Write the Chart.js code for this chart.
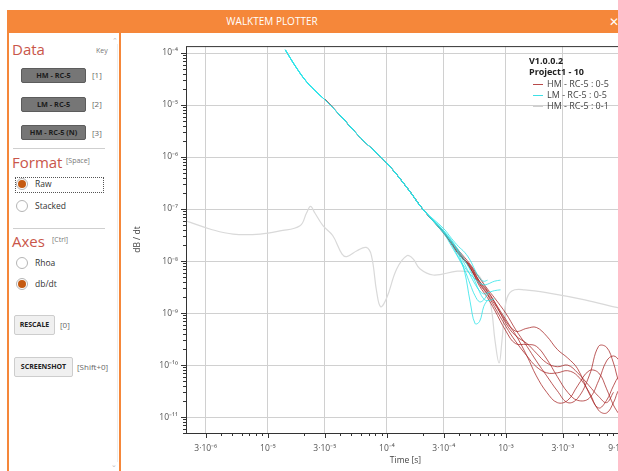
<!DOCTYPE html>
<html>
<head>
<meta charset="utf-8">
<script src="https://cdn.jsdelivr.net/npm/chart.js@4.4.1/dist/chart.umd.min.js"></script>
<style>
  html, body { margin: 0; padding: 0; background: #fff; overflow: hidden; width: 618px; height: 471px; font-family: "Open Sans", sans-serif; }
  .abs { position: absolute; white-space: nowrap; }
  #titlebar { left: 7px; top: 10px; width: 640px; height: 23px; background: #f5873a; }
  #titletext { left: 0; top: 10px; width: 544px; height: 23px; line-height: 23px; text-align: center; color: #fff; font-size: 10px; }
  #closebtn { left: 609px; top: 10px; height: 23px; line-height: 23px; color: #fff; font-size: 12px; }
  .vline { width: 2px; background: #f5873a; top: 33px; height: 438px; }
  .head { color: #c9564a; font-size: 15px; line-height: 15px; }
  .small { color: #777; font-size: 7px; height: 10px; line-height: 10px; }
  .key { color: #666; font-size: 8px; height: 10px; line-height: 10px; }
  .dbtn { left: 21px; width: 63px; height: 13px; background: #767676; border: 1px solid #5c5c5c; border-radius: 2px;
          font-size: 7.3px; font-weight: bold; color: #1c1c1c; text-align: center; line-height: 13px; }
  .sep { left: 13px; width: 92px; height: 1px; background: #cfcfcf; }
  .radio { width: 10px; height: 10px; border-radius: 50%; border: 1px solid #b5b5b5; background: #fff; }
  .radio.on::after { content: ""; position: absolute; left: 1px; top: 1px; width: 8px; height: 8px; border-radius: 50%; background: #c55a11; }
  .rlabel { left: 35px; font-size: 8.5px; color: #333; height: 12px; line-height: 12px; }
  .lbtn { left: 14px; height: 18px; background: #f0f0f0; border: 1px solid #cdcdcd; border-radius: 2px;
          font-size: 7px; font-weight: bold; color: #222; text-align: center; line-height: 18px; }
  #chartbox { left: 122px; top: 33px; width: 540px; height: 438px; }
  #legend { left: 529px; top: 55px; font-size: 9px; color: #444; z-index: 5; }
  #legend .row { height: 11.3px; line-height: 11.3px; position: relative; }
  #legend .b { font-weight: bold; color: #222; }
  #legend .swatch { position: absolute; left: 4px; top: 6px; width: 10px; height: 1px; }
  #legend .lt { padding-left: 18px; }
</style>
</head>
<body>
<div id="titlebar" class="abs"></div>
<div id="titletext" class="abs">WALKTEM PLOTTER</div>
<div id="closebtn" class="abs">✕</div>
<div class="abs vline" style="left:7px"></div>
<div class="abs vline" style="left:119px"></div>

<!-- left control panel -->
<div class="abs" style="left:112px;top:36px;font-size:7px;color:#bbb">&#8963;</div>
<div class="abs" style="left:117px;top:44px;width:1px;height:418px;background:#eee"></div>
<div class="abs" style="left:111px;top:460px;font-size:7px;color:#bbb">&#8964;</div>

<div class="abs head" style="left:12px;top:42px">Data</div>
<div class="abs small" style="left:96px;top:46px">Key</div>
<div class="abs dbtn" style="top:68px">HM - RC-5</div>
<div class="abs key" style="left:92px;top:70px">[1]</div>
<div class="abs dbtn" style="top:97px">LM - RC-5</div>
<div class="abs key" style="left:92px;top:99px">[2]</div>
<div class="abs dbtn" style="top:125px">HM - RC-5 (N)</div>
<div class="abs key" style="left:92px;top:128px">[3]</div>
<div class="abs sep" style="top:148px"></div>

<div class="abs head" style="left:12px;top:155px">Format</div>
<div class="abs small" style="left:66px;top:156px">[Space]</div>
<div class="abs" style="left:15px;top:177px;width:87px;height:14px;border:1px dotted #555"></div>
<div class="abs radio on" style="left:16px;top:178px"></div>
<div class="abs rlabel" style="top:178px">Raw</div>
<div class="abs radio" style="left:16px;top:200px"></div>
<div class="abs rlabel" style="top:200px">Stacked</div>
<div class="abs sep" style="top:228px"></div>

<div class="abs head" style="left:12px;top:234px">Axes</div>
<div class="abs small" style="left:52px;top:235px">[Ctrl]</div>
<div class="abs radio" style="left:16px;top:257px"></div>
<div class="abs rlabel" style="top:257px">Rhoa</div>
<div class="abs radio on" style="left:16px;top:278px"></div>
<div class="abs rlabel" style="top:278px">db/dt</div>

<div class="abs lbtn" style="top:315px;width:39px">RESCALE</div>
<div class="abs key" style="left:60px;top:320px">[0]</div>
<div class="abs lbtn" style="top:357px;width:57px">SCREENSHOT</div>
<div class="abs key" style="left:77px;top:362px">[Shift+0]</div>

<!-- chart -->
<div id="chartbox" class="abs"><canvas id="plot" width="540" height="438"></canvas></div>
<div id="legend" class="abs">
  <div class="row b">V1.0.0.2</div>
  <div class="row b">Project1 - 10</div>
  <div class="row"><span class="swatch" style="background:#b84a4a"></span><span class="lt">HM - RC-5 : 0-5</span></div>
  <div class="row"><span class="swatch" style="background:#3ee0e6"></span><span class="lt">LM - RC-5 : 0-5</span></div>
  <div class="row"><span class="swatch" style="background:#cfcfcf"></span><span class="lt">HM - RC-5 : 0-1</span></div>
</div>

<script>
// === tick labels ===
const xMajorTicks = [3e-6, 1e-5, 3e-5, 1e-4, 3e-4, 1e-3, 3e-3, 9e-3];
const xTickLabels = ['3·10⁻⁶', '10⁻⁵', '3·10⁻⁵', '10⁻⁴', '3·10⁻⁴', '10⁻³', '3·10⁻³', '9·10⁻³'];
const yMajorTicks = [1e-4, 1e-5, 1e-6, 1e-7, 1e-8, 1e-9, 1e-10, 1e-11];
const yTickLabels = ['10⁻⁴', '10⁻⁵', '10⁻⁶', '10⁻⁷', '10⁻⁸', '10⁻⁹', '10⁻¹⁰', '10⁻¹¹'];

// === HM - RC-5 : 0-5 (red) ===
const redTimes = [3e-5, 4e-5, 6e-5, 1e-4, 1.5e-4, 2e-4, 3e-4, 4e-4, 5e-4, 6e-4, 7e-4, 8e-4, 1e-3, 1.2e-3, 1.5e-3,
  1.8e-3, 2.2e-3, 2.7e-3, 3.3e-3, 4e-3, 5e-3, 6e-3, 7e-3, 8e-3, 9e-3, 1.1e-2];
const redGate0 = [1.29e-5, 6.5e-6, 2.35e-6, 7.6e-7, 2.45e-7, 1.0e-7, 3.5e-8, 1.4e-8, 8.0e-9, 4.0e-9, 2.56e-9, 1.65e-9, 7.5e-10,
  4.5e-10, 5.1e-10, 5.3e-10, 3.6e-10, 2.0e-10, 1.37e-10, 8.5e-11, 2.85e-11, 1.5e-11, 2.1e-11, 4.0e-11, 6.2e-11, 7.8e-11];
const redGate1 = [1.29e-5, 6.5e-6, 2.35e-6, 7.6e-7, 2.45e-7, 1.0e-7, 3.6e-8, 1.6e-8, 8.7e-9, 4.7e-9, 2.9e-9, 1.97e-9, 9.8e-10,
  4.9e-10, 2.3e-10, 1.2e-10, 6.2e-11, 3.2e-11, 1.9e-11, 2.3e-11, 6.2e-11, 2.3e-10, 2.2e-10, 1.1e-10, 4.6e-11, 2.6e-11];
const redGate2 = [1.29e-5, 6.5e-6, 2.35e-6, 7.6e-7, 2.45e-7, 1.0e-7, 3.5e-8, 1.47e-8, 7.3e-9, 3.6e-9, 2.24e-9, 1.33e-9, 5.5e-10,
  2.9e-10, 1.5e-10, 9.3e-11, 7.1e-11, 7.1e-11, 7.8e-11, 6.2e-11, 3.0e-11, 1.35e-11, 1.2e-11, 1.9e-11, 3.5e-11, 5.0e-11];
const redGate3 = [1.29e-5, 6.5e-6, 2.35e-6, 7.6e-7, 2.45e-7, 1.0e-7, 3.4e-8, 1.4e-8, 7.3e-9, 3.3e-9, 1.97e-9, 1.16e-9, 4.5e-10,
  2.6e-10, 2.5e-10, 2.3e-10, 1.31e-10, 6.0e-11, 3.0e-11, 2.1e-11, 2.3e-11, 5.0e-11, 1.2e-10, 1.5e-10, 1.2e-10, 6.2e-11];
const redGate4 = [1.29e-5, 6.5e-6, 2.35e-6, 7.6e-7, 2.45e-7, 1.0e-7, 3.5e-8, 1.53e-8, 7.6e-9, 3.8e-9, 2.34e-9, 1.51e-9, 6.9e-10,
  3.9e-10, 1.5e-10, 6.2e-11, 3.0e-11, 1.9e-11, 2.1e-11, 4.0e-11, 7.8e-11, 7.1e-11, 3.5e-11, 1.7e-11, 1.09e-11, null];
const redGate5 = [1.29e-5, 6.5e-6, 2.35e-6, 7.6e-7, 2.45e-7, 1.0e-7, 3.5e-8, 1.35e-8, 8.3e-9, 4.1e-9, 2.7e-9, 1.65e-9, 6.3e-10,
  3.7e-10, 2.6e-10, 1.7e-10, 1.1e-10, 9.3e-11, 1.0e-10, 7.1e-11, 4.0e-11, 2.5e-11, 1.9e-11, 3.0e-11, null, null];

// === LM - RC-5 : 0-5 (cyan) ===
const cyanTimes = [1.4e-5, 1.7e-5, 2.1e-5, 2.6e-5, 3e-5, 4e-5, 6e-5, 1e-4, 1.5e-4, 2e-4, 3e-4, 3.5e-4, 4e-4, 4.5e-4, 5e-4,
  5.5e-4, 6e-4, 6.5e-4, 7e-4, 8e-4, 9e-4];
const cyanGate0 = [1.15e-4, 5.6e-5, 2.85e-5, 1.72e-5, 1.27e-5, 6.5e-6, 2.35e-6, 7.6e-7, 2.45e-7, 1.0e-7,
  3.5e-8, 2.3e-8, 1.35e-8, 6.1e-9, 1.65e-9, 6.3e-10, 6.9e-10, 1.33e-9, 1.8e-9, null, null];
const cyanGate1 = [1.15e-4, 5.6e-5, 2.85e-5, 1.72e-5, 1.27e-5, 6.5e-6, 2.35e-6, 7.6e-7, 2.45e-7, 1.0e-7,
  3.8e-8, 2.1e-8, 1.18e-8, 7.6e-9, 5.6e-9, 4.5e-9, 3.8e-9, 3.5e-9, 3.6e-9, 4.1e-9, 4.3e-9];
const cyanGate2 = [1.15e-4, 5.6e-5, 2.85e-5, 1.72e-5, 1.27e-5, 6.5e-6, 2.35e-6, 7.6e-7, 2.45e-7, 1.0e-7,
  3.7e-8, 2.4e-8, 1.47e-8, 8.7e-9, 5.4e-9, 3.6e-9, 2.7e-9, 2.34e-9, 2.45e-9, 2.7e-9, 2.8e-9];
const cyanGate3 = [1.15e-4, 5.6e-5, 2.85e-5, 1.72e-5, 1.27e-5, 6.5e-6, 2.35e-6, 7.6e-7, 2.45e-7, 1.0e-7,
  3.8e-8, 2.5e-8, 1.6e-8, 1.04e-8, 6.7e-9, 4.1e-9, 2.56e-9, 1.88e-9, 1.73e-9, 1.88e-9, null];
const cyanGate4 = [1.15e-4, 5.6e-5, 2.85e-5, 1.72e-5, 1.27e-5, 6.5e-6, 2.35e-6, 7.6e-7, 2.45e-7, 1.0e-7,
  4.2e-8, 2.7e-8, 1.9e-8, 1.47e-8, 1.04e-8, 6.7e-9, 4.7e-9, 4.1e-9, 4.3e-9, null, null];
const cyanGate5 = [1.15e-4, 5.6e-5, 2.85e-5, 1.72e-5, 1.27e-5, 6.5e-6, 2.35e-6, 7.6e-7, 2.45e-7, 1.0e-7,
  3.4e-8, 1.9e-8, 1.13e-8, 6.7e-9, 3.6e-9, 2.15e-9, 1.65e-9, 1.8e-9, 2.34e-9, null, null];

// === HM - RC-5 : 0-1 (grey) ===
const grayTimes = [2.05e-6, 2.2e-6, 3.3e-6, 5.1e-6, 8.6e-6, 1.26e-5, 1.86e-5, 2.11e-5, 2.28e-5, 2.48e-5, 2.9e-5, 3.5e-5,
  4.2e-5, 4.6e-5, 5.6e-5, 6.7e-5, 7.4e-5, 8.2e-5, 8.85e-5, 9.9e-5, 1.21e-4, 1.47e-4, 1.66e-4, 1.89e-4, 2.44e-4, 3.9e-4,
  5.0e-4, 6.05e-4, 7.35e-4, 8.1e-4, 8.75e-4, 9.25e-4, 1.0e-3, 1.12e-3, 1.44e-3, 2.5e-3, 4.6e-3, 8.7e-3, 1.34e-2];
const grayValues = [5.9e-8, 5.6e-8, 4.1e-8, 3.3e-8, 3.3e-8, 3.8e-8, 4.8e-8, 8.4e-8, 1.13e-7, 8.4e-8, 4.8e-8, 3.1e-8,
  1.36e-8, 1.22e-8, 1.58e-8, 1.83e-8, 1.29e-8, 2.56e-9, 1.33e-9, 1.9e-9, 7.1e-9, 1.27e-8, 1.1e-8, 7.1e-9, 5.4e-9, 6.4e-9,
  6.1e-9, 4.9e-9, 1.65e-9, 2.9e-10, 1.1e-10, 2.9e-10, 1.65e-9, 2.67e-9, 2.8e-9, 2.34e-9, 1.8e-9, 1.27e-9, 1.02e-9];

const X_MIN = 2.05e-6, X_MAX = 1e-2;
const Y_MIN = 4.95e-12, Y_MAX = 1.36e-4;

const RED = 'rgba(165,35,35,0.75)';
const CYAN = 'rgba(45,228,232,0.8)';
const GRAY = '#d9d9d9';

function majorIndex(v, majors) {
  return majors.findIndex(m => Math.abs(Math.log10(v) - Math.log10(m)) < 1e-6);
}

// majors plus 1..9 x decade minor positions
function logTicks(min, max, majors) {
  const out = majors.filter(m => m >= min && m <= max);
  for (let d = Math.floor(Math.log10(min)); d <= Math.ceil(Math.log10(max)); d++) {
    for (let m = 1; m <= 9; m++) {
      const v = m * Math.pow(10, d);
      if (v >= min && v <= max * 1.0001 && majorIndex(v, majors) < 0) out.push(v);
    }
  }
  return out.sort((a, b) => a - b);
}

const toPoints = (ts, vs) => ts.map((t, i) => ({ x: t, y: vs[i] })).filter(p => p.y != null);

const line = (label, ts, vs, color) => ({
  label, data: toPoints(ts, vs), borderColor: color, borderWidth: 1,
  pointRadius: 0, tension: 0.4, fill: false
});

const datasets = [
  line('LM - RC-5 : 0', cyanTimes, cyanGate0, CYAN),
  line('LM - RC-5 : 1', cyanTimes, cyanGate1, CYAN),
  line('LM - RC-5 : 2', cyanTimes, cyanGate2, CYAN),
  line('LM - RC-5 : 3', cyanTimes, cyanGate3, CYAN),
  line('LM - RC-5 : 4', cyanTimes, cyanGate4, CYAN),
  line('LM - RC-5 : 5', cyanTimes, cyanGate5, CYAN),
  line('HM - RC-5 : 0', redTimes, redGate0, RED),
  line('HM - RC-5 : 1', redTimes, redGate1, RED),
  line('HM - RC-5 : 2', redTimes, redGate2, RED),
  line('HM - RC-5 : 3', redTimes, redGate3, RED),
  line('HM - RC-5 : 4', redTimes, redGate4, RED),
  line('HM - RC-5 : 5', redTimes, redGate5, RED),
  Object.assign(line('HM - RC-5 : 0-1', grayTimes, grayValues, GRAY), { borderWidth: 1.2 }),
];

// plot frame + tick marks (major longer than minor)
const framePlugin = {
  id: 'frame',
  afterDraw(chart) {
    const { ctx, chartArea: a, scales: { x, y } } = chart;
    ctx.save();
    ctx.strokeStyle = '#333';
    ctx.lineWidth = 1;
    ctx.strokeRect(a.left + 0.5, a.top + 0.5, a.right - a.left, a.bottom - a.top);
    ctx.beginPath();
    x.ticks.forEach(t => {
      const px = Math.round(x.getPixelForValue(t.value)) + 0.5;
      const len = majorIndex(t.value, xMajorTicks) >= 0 ? 5 : 3;
      ctx.moveTo(px, a.bottom); ctx.lineTo(px, a.bottom + len);
    });
    y.ticks.forEach(t => {
      const py = Math.round(y.getPixelForValue(t.value)) + 0.5;
      const len = majorIndex(t.value, yMajorTicks) >= 0 ? 5 : 3;
      ctx.moveTo(a.left, py); ctx.lineTo(a.left - len, py);
    });
    ctx.stroke();
    ctx.restore();
  }
};

const tickFont = { family: '"Open Sans", sans-serif', size: 8.5 };

new Chart(document.getElementById('plot'), {
  type: 'line',
  data: { datasets },
  plugins: [framePlugin],
  options: {
    responsive: false,
    animation: false,
    devicePixelRatio: 1,
    layout: { padding: { left: 0, top: 8, right: 37, bottom: 2 } },
    plugins: { legend: { display: false }, tooltip: { enabled: false } },
    scales: {
      x: {
        type: 'logarithmic', min: X_MIN, max: X_MAX,
        afterBuildTicks: s => { s.ticks = logTicks(X_MIN, X_MAX, xMajorTicks).map(v => ({ value: v })); },
        afterFit: s => { s.height = 36; },
        ticks: {
          autoSkip: false, maxRotation: 0, minRotation: 0, padding: 10, color: '#555', font: tickFont,
          callback: v => { const i = majorIndex(v, xMajorTicks); return i < 0 ? '' : xTickLabels[i]; }
        },
        grid: {
          drawTicks: false,
          color: c => (c.tick && majorIndex(c.tick.value, xMajorTicks) >= 0) ? '#d0d0d0' : 'rgba(0,0,0,0)'
        },
        border: { display: false },
        title: { display: true, text: 'Time [s]', color: '#444', font: { family: '"Open Sans", sans-serif', size: 8.5 }, padding: { top: 0, bottom: 3 } }
      },
      y: {
        type: 'logarithmic', min: Y_MIN, max: Y_MAX,
        afterBuildTicks: s => { s.ticks = logTicks(Y_MIN, Y_MAX, yMajorTicks).map(v => ({ value: v })); },
        afterFit: s => { s.width = 64; },
        ticks: {
          autoSkip: false, padding: 8, color: '#555', font: tickFont,
          callback: v => { const i = majorIndex(v, yMajorTicks); return i < 0 ? '' : yTickLabels[i]; }
        },
        grid: {
          drawTicks: false,
          color: c => (c.tick && majorIndex(c.tick.value, yMajorTicks) >= 0) ? '#d0d0d0' : 'rgba(0,0,0,0)'
        },
        border: { display: false },
        title: { display: true, text: 'dB / dt', color: '#444', font: { family: '"Open Sans", sans-serif', size: 8.5 }, padding: { top: 10, bottom: 0 } }
      }
    }
  }
});
</script>
</body>
</html>
